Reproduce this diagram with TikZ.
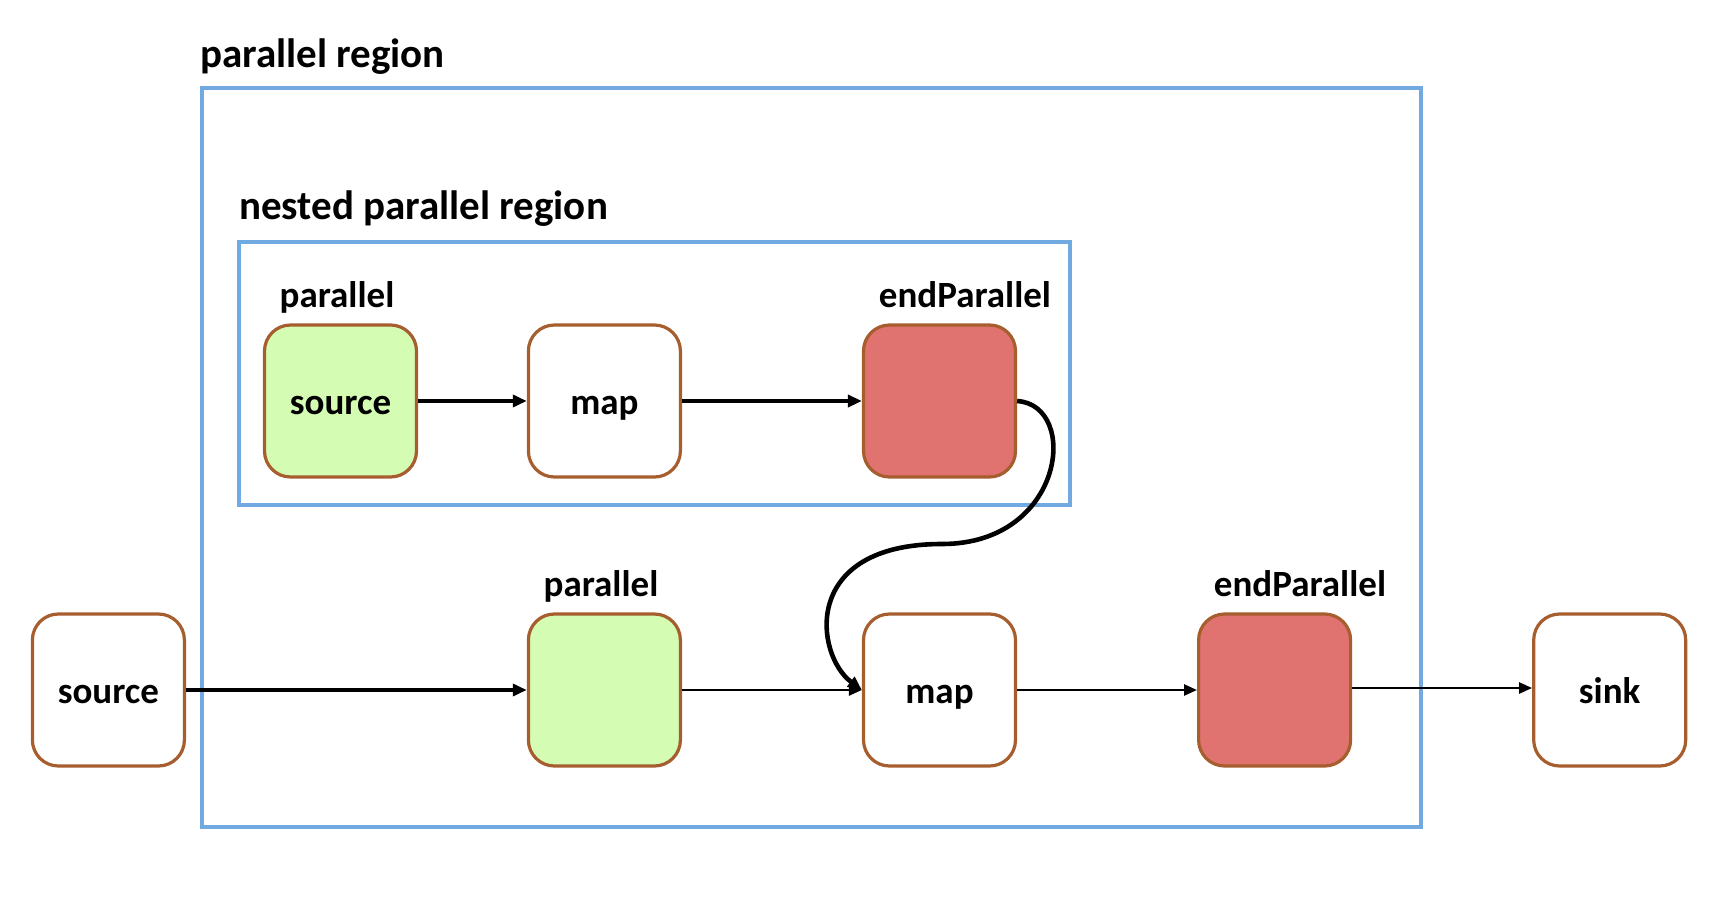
\documentclass[tikz,border=0pt]{standalone}
\usepackage{fontspec}
\setmainfont{Carlito}
\usetikzlibrary{arrows.meta}
\definecolor{regblue}{RGB}{112,170,225}
\definecolor{nodebrown}{RGB}{166,94,46}
\definecolor{pargreen}{RGB}{212,252,178}
\definecolor{endred}{RGB}{224,114,112}
\tikzset{
  opbox/.style={draw=nodebrown, line width=3.2pt, rounded corners=26pt, fill=white,
    minimum width=152pt, minimum height=152pt, inner sep=0pt,
    text height=26pt, text depth=0pt,
    font=\fontsize{37}{44}\selectfont\bfseries},
  parbox/.style={opbox, fill=pargreen},
  endbox/.style={opbox, fill=endred},
  region/.style={draw=regblue, line width=4.5pt},
  regionlabel/.style={anchor=base west, inner sep=0pt, font=\fontsize{41}{48}\selectfont\bfseries},
  oplabel/.style={anchor=base, inner sep=0pt, font=\fontsize{37}{44}\selectfont\bfseries},
  thickflow/.style={line width=4.6pt, -{Triangle[length=14pt,width=12pt]}},
  thinflow/.style={line width=2.6pt, -{Triangle[length=13pt,width=11pt]}}
}
\begin{document}
\begin{tikzpicture}[x=1pt,y=-1pt]
\useasboundingbox (0,0) rectangle (1717,905);
% regions
\draw[region] (202,88) rectangle (1421,827);
\node[regionlabel] (outerlabel) at (200,67) {parallel region};
\draw[region] (239,242) rectangle (1070,505);
\node[regionlabel] (innerlabel) at (239,219) {nested parallel region};
% nested nodes
\node[parbox] (ns) at (340.5,401) {source};
\node[opbox]  (nm) at (604.4,401) {map};
\node[endbox] (ne) at (939.5,401) {};
\node[oplabel] (nsl) at (337,307) {parallel};
\node[oplabel] (nel) at (965,307) {endParallel};
% bottom nodes
\node[opbox]  (bs) at (108.4,690) {source};
\node[parbox] (bp) at (604.4,690) {};
\node[opbox]  (bm) at (939.5,690) {map};
\node[endbox] (be) at (1274.6,690) {};
\node[opbox]  (sink) at (1609.7,690) {sink};
\node[oplabel] (bpl) at (601,596) {parallel};
\node[oplabel] (bel) at (1300,596) {endParallel};
% connectors
\draw[thickflow] (ns.east) -- (nm.west);
\draw[thickflow] (nm.east) -- (ne.west);
\coordinate (mid) at (942,544);
\draw[thickflow] (ne.east) .. controls (1080,405) and (1065,544) .. (mid)
  .. controls (800,544) and (815,655) .. (bm.west);
\draw[thickflow] (bs.east) -- (bp.west);
\draw[thinflow] (bp.east) -- (bm.west);
\draw[thinflow] (bm.east) -- (be.west);
\draw[thinflow] ([yshift=2pt]be.east) -- ([yshift=2pt]sink.west);
\end{tikzpicture}
\end{document}
